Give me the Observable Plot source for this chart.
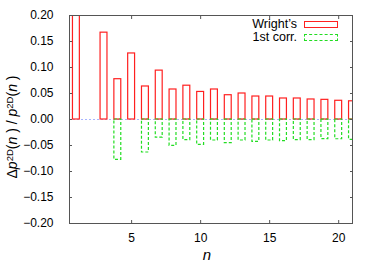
<!DOCTYPE html>
<html>
<head>
<meta charset="utf-8">
<script src="https://cdn.jsdelivr.net/npm/d3@7"></script>
<script src="https://cdn.jsdelivr.net/npm/@observablehq/plot@0.6"></script>
<style>
  html, body { margin: 0; padding: 0; background: #fff; }
  #wrap { position: relative; width: 375px; height: 263px; font-family: "Liberation Sans", Arial, Helvetica, sans-serif; color: #000; }
  #wrap svg { position: absolute; left: 0; top: 0; }
  .ylab { position: absolute; left: 13px; top: 127px; transform: translate(-50%, -50%) rotate(-90deg); white-space: nowrap; font-size: 14px; line-height: 14px; }
  .ylab sup { font-size: 0.68em; position: relative; top: -0.45em; vertical-align: baseline; }
  .xlab { position: absolute; left: 207px; top: 254px; transform: translate(-50%, -50%); font-size: 15px; font-style: italic; line-height: 15px; }
  .leg { position: absolute; right: 37px; display: flex; align-items: center; justify-content: flex-end; height: 12px; font-size: 12.5px; line-height: 12px; }
  .leg .sw { display: inline-block; width: 34px; height: 7px; box-sizing: border-box; margin-left: 7px; }
</style>
</head>
<body>
<div id="wrap"></div>
<script>
// Data
const nValues = [1, 2, 3, 4, 5, 6, 7, 8, 9, 10, 11, 12, 13, 14, 15, 16, 17, 18, 19, 20, 21];
const wright = [0.25, 0, 0.167, 0.0775, 0.127, 0.0635, 0.094, 0.0577, 0.065, 0.053, 0.0577, 0.0467, 0.05, 0.0442, 0.0442, 0.0404, 0.0404, 0.0385, 0.0378, 0.036, 0.035];
const firstCorr = [0, 0, 0, -0.0775, 0, -0.0635, -0.035, -0.0506, -0.0397, -0.0487, -0.0404, -0.0455, -0.0404, -0.0429, -0.0404, -0.0417, -0.0397, -0.0397, -0.0378, -0.038, -0.039];
const xTicks = [5, 10, 15, 20];
const yTicks = [-0.20, -0.15, -0.10, -0.05, 0, 0.05, 0.10, 0.15, 0.20];
const seriesNames = ["Wright\u2019s", "1st corr."];
const seriesColors = ["#ff2020", "#22dd22"];

const boxHalf = 0.25;
const rowsW = nValues.map((n, i) => ({n, v: wright[i]}));
const rowsC = nValues.map((n, i) => ({n, v: firstCorr[i]}));
const fmt = d3.format(".2f");

const plot = Plot.plot({
  width: 375,
  height: 263,
  marginLeft: 69,
  marginRight: 23,
  marginTop: 15,
  marginBottom: 40,
  style: {fontFamily: "'Liberation Sans', Arial, Helvetica, sans-serif", fontSize: "12px", color: "#000", background: "transparent"},
  x: {domain: [0.5, 21]},
  y: {domain: [-0.2, 0.2]},
  marks: [
    Plot.ruleY([0], {stroke: "#a8b4ff", strokeDasharray: "2,2", strokeWidth: 1}),
    Plot.rect(rowsW, {x1: d => d.n - boxHalf, x2: d => d.n + boxHalf, y1: 0, y2: "v", fill: "none", stroke: seriesColors[0], strokeWidth: 1.2, inset: 0, clip: true}),
    Plot.rect(rowsC, {x1: d => d.n - boxHalf, x2: d => d.n + boxHalf, y1: 0, y2: "v", fill: "none", stroke: seriesColors[1], strokeWidth: 1.2, strokeDasharray: "3,2", inset: 0, clip: true}),
    Plot.frame({stroke: "#555", strokeWidth: 1}),
    Plot.axisX({anchor: "bottom", ticks: xTicks, tickSize: -3, fill: "none", stroke: "#555", label: null}),
    Plot.axisX({anchor: "top", ticks: xTicks, tickSize: -3, fill: "none", stroke: "#555", label: null}),
    Plot.axisY({anchor: "left", ticks: yTicks, tickSize: -3, fill: "none", stroke: "#555", label: null}),
    Plot.axisY({anchor: "right", ticks: yTicks, tickSize: -3, fill: "none", stroke: "#555", label: null}),
    Plot.axisX({anchor: "bottom", ticks: xTicks, tickSize: 0, tickPadding: 10, label: null, fill: "#000"}),
    Plot.axisY({anchor: "left", ticks: yTicks, tickSize: 0, tickPadding: 16, tickFormat: fmt, label: null, fill: "#000"})
  ]
});

const wrap = document.getElementById("wrap");
wrap.appendChild(plot);

const ylab = document.createElement("div");
ylab.className = "ylab";
ylab.innerHTML = "\u0394<i>p</i><sup>2D</sup>(<i>n</i> ) / <i>p</i><sup>2D</sup>(<i>n</i> )";
wrap.appendChild(ylab);

const xlab = document.createElement("div");
xlab.className = "xlab";
xlab.textContent = "n";
wrap.appendChild(xlab);

const legTops = [18, 31];
seriesNames.forEach((name, i) => {
  const row = document.createElement("div");
  row.className = "leg";
  row.style.top = legTops[i] + "px";
  const t = document.createElement("span");
  t.textContent = name;
  const sw = document.createElement("span");
  sw.className = "sw";
  sw.style.border = "1px " + (i === 0 ? "solid " : "dashed ") + seriesColors[i];
  row.appendChild(t);
  row.appendChild(sw);
  wrap.appendChild(row);
});
</script>
</body>
</html>
